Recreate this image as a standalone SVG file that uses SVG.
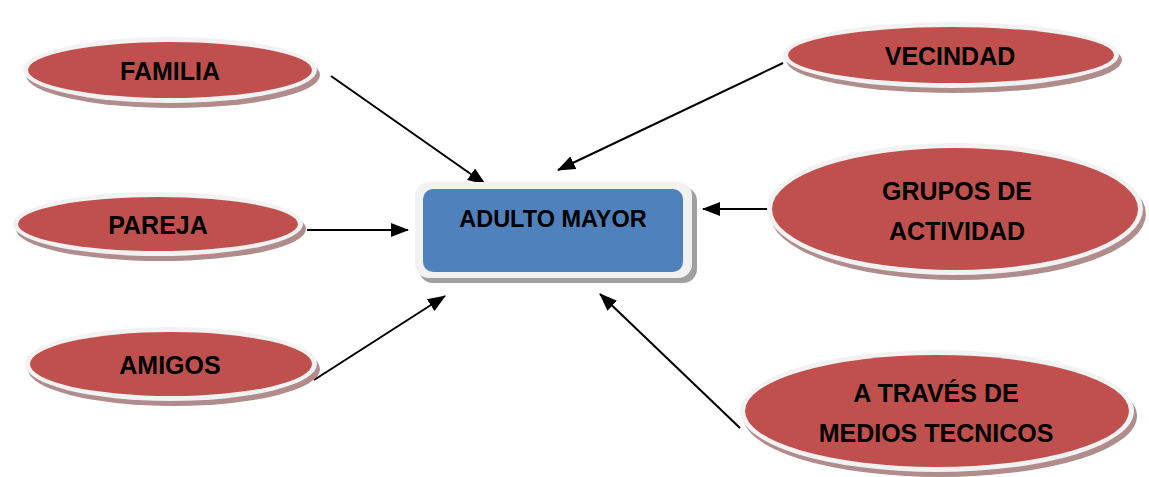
<svg xmlns="http://www.w3.org/2000/svg" width="1149" height="477" viewBox="0 0 1149 477">
<style>
.sh{fill:#b08c8c}
.ring{fill:#f2f2f2}
.red{fill:#c0504d}
.bsh{fill:#a0a0a0}
.blue{fill:#4f81bd}
.t{font-family:"Liberation Sans",Arial,sans-serif;font-weight:bold;font-size:25px;fill:#000;text-anchor:middle}
.c{stroke:#000;stroke-width:2;fill:none;marker-end:url(#ah)}
</style>
<defs>
<marker id="ah" markerWidth="18" markerHeight="14" refX="17" refY="7" orient="auto" markerUnits="userSpaceOnUse">
<path d="M0,0 L18,7 L0,14 Z" fill="#000"/>
</marker>
</defs>
<rect width="1149" height="477" fill="#fff"/>
<g id="connectors">
<line class="c" x1="331" y1="76" x2="485" y2="184"/>
<line class="c" x1="307" y1="230" x2="408" y2="230"/>
<line class="c" x1="314" y1="380" x2="445" y2="296"/>
<line class="c" x1="783" y1="63" x2="558" y2="170"/>
<line class="c" x1="770" y1="209" x2="703" y2="209"/>
<line class="c" x1="740" y1="428" x2="600" y2="294"/>
</g>
<g id="adulto-mayor">
<rect class="bsh" x="419" y="187" width="278" height="96" rx="14"/>
<rect class="ring" x="415" y="182" width="277" height="96" rx="14"/>
<rect class="blue" x="423" y="189" width="260" height="83" rx="10"/>
<text class="t" x="553" y="227" style="font-size:23.5px">ADULTO MAYOR</text>
</g>
<g id="familia">
<ellipse class="sh" cx="173" cy="75" rx="147" ry="33"/>
<ellipse class="ring" cx="170" cy="70" rx="147" ry="33"/>
<ellipse class="red" cx="170" cy="70" rx="142" ry="28"/>
<text class="t" x="170" y="80">FAMILIA</text>
</g>
<g id="vecindad">
<ellipse class="sh" cx="954" cy="60" rx="168" ry="33"/>
<ellipse class="ring" cx="951" cy="55" rx="168" ry="33"/>
<ellipse class="red" cx="951" cy="55" rx="163" ry="28"/>
<text class="t" x="950" y="65">VECINDAD</text>
</g>
<g id="pareja">
<ellipse class="sh" cx="161" cy="229" rx="145" ry="32"/>
<ellipse class="ring" cx="158" cy="224" rx="145" ry="32"/>
<ellipse class="red" cx="158" cy="224" rx="140" ry="27"/>
<text class="t" x="158" y="234">PAREJA</text>
</g>
<g id="amigos">
<ellipse class="sh" cx="174" cy="369" rx="146" ry="37"/>
<ellipse class="ring" cx="171" cy="364" rx="146" ry="37"/>
<ellipse class="red" cx="171" cy="364" rx="141" ry="32"/>
<text class="t" x="170" y="374">AMIGOS</text>
</g>
<g id="grupos">
<ellipse class="sh" cx="958" cy="214" rx="188" ry="66"/>
<ellipse class="ring" cx="955" cy="209" rx="188" ry="66"/>
<ellipse class="red" cx="955" cy="209" rx="183" ry="61"/>
<text class="t" x="957" y="200">GRUPOS DE</text>
<text class="t" x="957" y="240">ACTIVIDAD</text>
</g>
<g id="medios">
<ellipse class="sh" cx="940" cy="416" rx="197" ry="61"/>
<ellipse class="ring" cx="937" cy="411" rx="197" ry="61"/>
<ellipse class="red" cx="937" cy="411" rx="192" ry="56"/>
<text class="t" x="936" y="402">A TRAVÉS DE</text>
<text class="t" x="936" y="442">MEDIOS TECNICOS</text>
</g>
</svg>
